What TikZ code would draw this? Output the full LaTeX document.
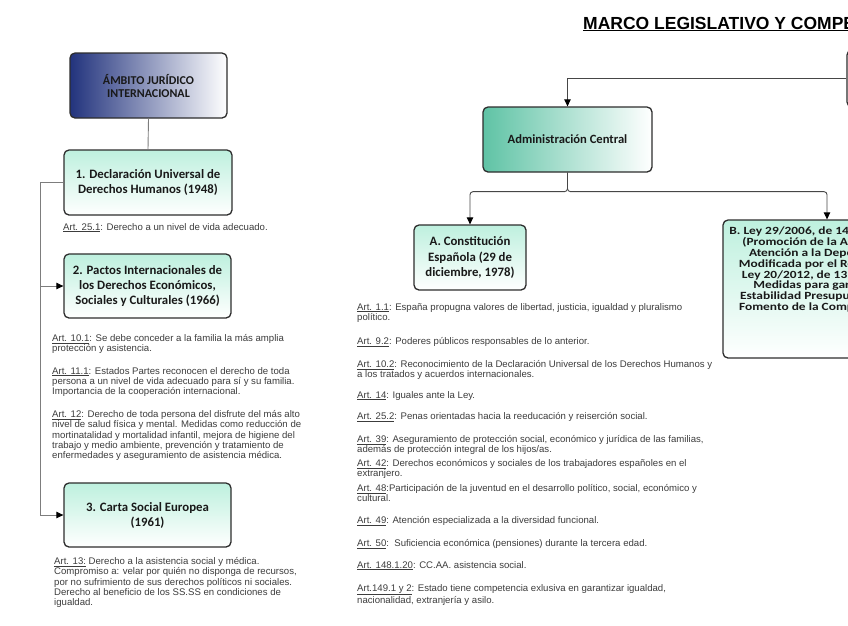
\documentclass[tikz,border=0pt]{standalone}
\usepackage{fontspec}
\setmainfont{Liberation Sans}
\newfontfamily\boxfont{Carlito}
\newfontfamily\boxfontw{Carlito}[FakeStretch=1.22]
\usetikzlibrary{arrows.meta}
\definecolor{navyc}{RGB}{34,51,125}
\definecolor{mintc}{RGB}{190,240,222}
\definecolor{tealc}{RGB}{95,195,165}
\definecolor{bordc}{RGB}{45,45,45}
\definecolor{txtc}{RGB}{60,60,60}
\definecolor{lconn}{RGB}{125,125,125}
\definecolor{cconn}{RGB}{70,70,70}
\newcommand\artref[1]{\underline{#1}}
\begin{document}
\begin{tikzpicture}[x=1pt,y=-1pt,
  lbox/.style={draw=bordc, line width=1.3pt, rounded corners=5pt, inner sep=0pt, align=center, text=black!90},
  navybox/.style={lbox, left color=navyc, right color=white, font=\boxfont\bfseries\fontsize{12}{13}\selectfont},
  mintbox/.style={lbox, top color=mintc, bottom color=white, font=\boxfont\bfseries\fontsize{12.8}{15}\selectfont},
  tealbox/.style={lbox, left color=tealc, right color=white, font=\boxfont\bfseries\fontsize{12.6}{14}\selectfont},
  arttext/.style={anchor=north west, inner sep=0pt, align=left, text=txtc, font=\fontsize{9.6}{10.4}\selectfont},
  lline/.style={draw=lconn, line width=0.9pt},
  cline/.style={draw=cconn, line width=0.9pt},
  tip/.style={-{Triangle[length=7pt,width=6.5pt,color=black]}}
]
\useasboundingbox (0,0) rectangle (848,625);
\clip (0,0) rectangle (848,625);

% title
\node[anchor=base west, inner sep=0pt, font=\bfseries\fontsize{17.5}{20}\selectfont, text=black] (title) at (583,29) {\underline{MARCO LEGISLATIVO Y COMPETENCIAL}};

% left column
\node[navybox, minimum width=157, minimum height=65] (amb) at (148.5,85.5) {ÁMBITO JURÍDICO\\INTERNACIONAL};
\node[mintbox, minimum width=168, minimum height=65] (d1) at (148,182.5) {1. Declaración Universal de\\Derechos Humanos (1948)};
\node[mintbox, minimum width=167, minimum height=64] (d2) at (147.5,286) {2. Pactos Internacionales de\\los Derechos Económicos,\\Sociales y Culturales (1966)};
\node[mintbox, minimum width=167, minimum height=64] (d3) at (147.5,515) {3. Carta Social Europea\\(1961)};

\coordinate (lft) at (40,182.5);
\draw[lline] (amb.south) -- (d1.north);
\draw[lline] (d1.west) -- (lft);
\draw[lline, tip] (lft) |- (d3.west);
\draw[lline, tip] (lft |- d2.west) -- (d2.west);

\node[arttext] (a251) at (63,223) {\artref{Art. 25.1}: Derecho a un nivel de vida adecuado.};
\node[arttext] (a101) at (52,334) {\artref{Art. 10.1}: Se debe conceder a la familia la más amplia\\protección y asistencia.};
\node[arttext] (a111) at (52,367) {\artref{Art. 11.1}: Estados Partes reconocen el derecho de toda\\persona a un nivel de vida adecuado para sí y su familia.\\Importancia de la cooperación internacional.};
\node[arttext] (a12) at (52,410) {\artref{Art. 12}: Derecho de toda persona del disfrute del más alto\\nivel de salud física y mental. Medidas como reducción de\\mortinatalidad y mortalidad infantil, mejora de higiene del\\trabajo y medio ambiente, prevención y tratamiento de\\enfermedades y aseguramiento de asistencia médica.};
\node[arttext] (a13) at (54,557) {\artref{Art. 13:} Derecho a la asistencia social y médica.\\Compromiso a: velar por quién no disponga de recursos,\\por no sufrimiento de sus derechos políticos ni sociales.\\Derecho al beneficio de los SS.SS en condiciones de\\igualdad.};

% centre
\node[draw=bordc, line width=1.3pt, rounded corners=5pt, fill=white, minimum width=166, minimum height=57] (marco) at (930,78.5) {};
\node[tealbox, minimum width=169, minimum height=65] (admin) at (567.5,139.5) {Administración Central};
\node[mintbox, minimum width=112, minimum height=65, font=\boxfont\bfseries\fontsize{12.8}{15.5}\selectfont] (consA) at (470,257.5) {A. Constitución\\Española (29 de\\diciembre, 1978)};
\node[lbox, top color=mintc, bottom color=white, minimum width=208, minimum height=138] (leyB) at (827,289) {};
\node[anchor=north, inner sep=0pt, align=center, text=black!90, font=\boxfontw\bfseries\fontsize{11}{10.8}\selectfont] (leyBt) at (827,227) {B. Ley 29/2006, de 14 de diciembre\\(Promoción de la Autonomía y\\Atención a la Dependencia).\\Modificada por el Real Decreto-\\Ley 20/2012, de 13 de julio, de\\Medidas para garantizar la\\Estabilidad Presupuestaria y de\\Fomento de la Competitividad).};

\draw[cline, tip] (marco.west) -| (admin.north);
\draw[cline, tip, rounded corners=3pt] (admin.south) -- ++(0,19) -| (consA.north);
\draw[cline, tip, rounded corners=3pt] (admin.south) -- ++(0,19) -| (leyB.north);

\node[arttext] (c11) at (357,303) {\artref{Art. 1.1}: España propugna valores de libertad, justicia, igualdad y pluralismo\\político.};
\node[arttext] (c92) at (357,337) {\artref{Art. 9.2}: Poderes públicos responsables de lo anterior.};
\node[arttext] (c102) at (357,360) {\artref{Art. 10.2}: Reconocimiento de la Declaración Universal de los Derechos Humanos y\\a los tratados y acuerdos internacionales.};
\node[arttext] (c14) at (357,391) {\artref{Art. 14}: Iguales ante la Ley.};
\node[arttext] (c252) at (357,412) {\artref{Art. 25.2}: Penas orientadas hacia la reeducación y reiserción social.};
\node[arttext] (c39) at (357,435) {\artref{Art. 39}: Aseguramiento de protección social, económico y jurídica de las familias,\\además de protección integral de los hijos/as.};
\node[arttext] (c42) at (357,459) {\artref{Art. 42}: Derechos económicos y sociales de los trabajadores españoles en el\\extranjero.};
\node[arttext] (c48) at (357,484) {\artref{Art. 48}:Participación de la juventud en el desarrollo político, social, económico y\\cultural.};
\node[arttext] (c49) at (357,516) {\artref{Art. 49}: Atención especializada a la diversidad funcional.};
\node[arttext] (c50) at (357,539) {\artref{Art. 50}:\ \ Suficiencia económica (pensiones) durante la tercera edad.};
\node[arttext] (c148) at (357,561) {\artref{Art. 148.1.20}: CC.AA. asistencia social.};
\node[arttext] (c149) at (357,584) {\artref{Art.149.1 y 2}: Estado tiene competencia exlusiva en garantizar igualdad,\\nacionalidad, extranjería y asilo.};
\end{tikzpicture}
\end{document}
